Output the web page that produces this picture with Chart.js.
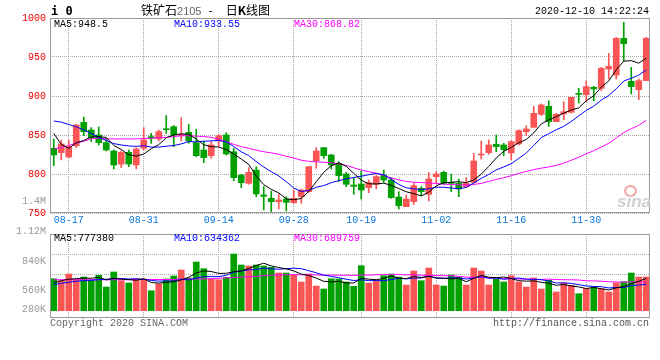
<!DOCTYPE html>
<html>
<head>
<meta charset="utf-8">
<script src="https://cdn.jsdelivr.net/npm/chart.js@4.4.0/dist/chart.umd.min.js"></script>
<style>
html, body { margin: 0; padding: 0; background: #fff; }
#wrap { position: relative; width: 660px; height: 360px; overflow: hidden; font-family: "Liberation Mono", "DejaVu Sans Mono", monospace; font-size: 10px; line-height: 10px; }
canvas { position: absolute; left: 0; top: 0; }
.t { position: absolute; white-space: nowrap; }
</style>
</head>
<body>
<div id="wrap">
  <canvas id="kline" width="660" height="360"></canvas>
  <canvas id="vol" width="660" height="360"></canvas>

  <div class="t" style="left:51px;top:5px;font:bold 12px 'DejaVu Sans Mono';line-height:12px">i 0</div>
  <div class="t" style="left:141px;top:4px;font:12px 'Noto Sans CJK SC';line-height:12px">铁矿石<span style="color:#666;font:11px 'Liberation Sans'">2105</span><span style="display:inline-block;margin:0 13px 0 7px">-</span>日<b>K</b>线图</div>
  <div class="t" style="left:535px;top:7px">2020-12-10 14:22:24</div>

  <div class="t" style="left:54px;top:20px;color:#000">MA5:948.5</div>
  <div class="t" style="left:174px;top:20px;color:#0000ff">MA10:933.55</div>
  <div class="t" style="left:294px;top:20px;color:#ff00ff">MA30:868.82</div>

  <div class="t" style="left:54px;top:234px;color:#000">MA5:777380</div>
  <div class="t" style="left:174px;top:234px;color:#0000ff">MA10:634362</div>
  <div class="t" style="left:294px;top:234px;color:#ff00ff">MA30:689759</div>

  <div class="t" style="right:614px;top:197px;color:#999">1.4M</div>
  <div id="volLabels"></div>

  <div class="t" style="left:624px;top:185px;width:9px;height:8px;border:2px solid #f2a5a5;border-radius:50%"></div>
  <div class="t" style="left:617px;top:193px;font:italic bold 17px 'Liberation Sans';line-height:17px;color:#cfcfcf">sina</div>

  <div class="t" style="left:50px;top:319px;color:#666">Copyright 2020 SINA.COM</div>
  <div class="t" style="left:493px;top:319px;color:#555">http://finance.sina.com.cn</div>
</div>

<script>
// 交易日
const dates = ['08-13','08-14','08-17','08-18','08-19','08-20','08-21','08-24','08-25','08-26','08-27','08-28','08-31',
  '09-01','09-02','09-03','09-04','09-07','09-08','09-09','09-10','09-11','09-14','09-15','09-16','09-17','09-18',
  '09-21','09-22','09-23','09-24','09-25','09-28','09-29','09-30',
  '10-09','10-12','10-13','10-14','10-15','10-16','10-19','10-20','10-21','10-22','10-23','10-26','10-27','10-28','10-29','10-30',
  '11-02','11-03','11-04','11-05','11-06','11-09','11-10','11-11','11-12','11-13','11-16','11-17','11-18','11-19','11-20',
  '11-23','11-24','11-25','11-26','11-27','11-30',
  '12-01','12-02','12-03','12-04','12-07','12-08','12-09','12-10'];

const dateLabels = ['08-17','08-31','09-14','09-28','10-19','11-02','11-16','11-30'];
const priceTicks = [750, 800, 850, 900, 950, 1000];
const volTickLabels = ['1.12M', '840K', '560K', '280K'];

// K线
const opens = [832.9, 827.4, 821.8, 836.3, 866.2, 856.4, 850, 840.2, 829.5, 812.8,
  827.8, 811.5, 833, 847.9, 844.9, 857.7, 860.7, 849.1, 853.4, 840.2,
  830.8, 823.5, 842.3, 850, 828.6, 798.7, 788, 805.1, 773.1, 768.8,
  764.5, 767.9, 763.2, 771, 777.4, 817.1, 833.8, 824.4, 813.7, 800,
  785.9, 787.2, 782.5, 786.8, 798.7, 792.3, 770.5, 758.1, 764.5, 781.7,
  773.9, 796.6, 802.1, 789.3, 788, 783.8, 789.3, 824.4, 827.4, 838,
  837.2, 827, 838.5, 854.3, 859.8, 876.5, 886.8, 867.1, 877, 879.1,
  903.4, 901.7, 911.1, 909.8, 934.6, 926.9, 973.9, 918.8, 908.1, 919.7];
const highs = [844.9, 843.6, 843.6, 863.7, 873.1, 859.4, 860.3, 845.7, 830.8, 829.5,
  830.8, 833.8, 859.4, 852.1, 856.4, 874.8, 862, 872.2, 863.7, 857.3,
  842.3, 841.5, 850.9, 853, 832.9, 799.6, 808.1, 809.4, 783.8, 778.2,
  774.4, 770.9, 779.5, 780.8, 809.4, 833.8, 833.8, 825.2, 815.8, 802.1,
  794.4, 803.8, 792.3, 798.7, 805.1, 795.3, 777.4, 773.1, 788, 783.8,
  802.1, 803, 803.8, 800, 793.6, 795.3, 826.5, 842.3, 843.6, 850,
  839.3, 842.7, 856.8, 862, 886.8, 889.8, 894, 877.8, 892.7, 898.3,
  909.8, 919.2, 912.4, 936.8, 954.7, 975.2, 994.5, 936.8, 921.8, 975.2];
const lows = [810.7, 818, 821, 833.8, 849.2, 841.5, 837.2, 829.5, 806.4, 808.1,
  809.4, 806.4, 830.8, 839.3, 842.3, 852.1, 835, 842.3, 839.3, 822.2,
  814.5, 820.1, 835, 824.4, 791.5, 782.5, 786.8, 770.9, 753.9, 750,
  755.1, 752.6, 762.4, 762.4, 776.5, 807.3, 820.1, 806.4, 790.2, 783.8,
  773.9, 767.9, 776.1, 780.8, 789.3, 768.8, 755.1, 758.1, 761.1, 772.2,
  765.4, 788, 786.8, 777.4, 770.9, 782.5, 788, 819.2, 825.2, 828.6,
  823.5, 818.4, 837.2, 849.2, 859.8, 874.8, 861.1, 867.1, 869.7, 878.2,
  891, 892.7, 894, 906.8, 921.8, 921.8, 945.3, 902.6, 895.3, 919.7];
const closes = [824.4, 838.5, 835, 862.8, 854.3, 846.6, 840.2, 830.8, 811.5, 827.8,
  812.8, 832.1, 843.6, 845.7, 854.3, 856.8, 850, 850.9, 842.3, 823.5,
  821, 837.2, 849.1, 825.6, 795.3, 788.9, 802.1, 774.4, 771.4, 764.5,
  766.7, 763.7, 768.8, 779.5, 809.4, 829.5, 823.5, 811.5, 797.9, 786.8,
  784.2, 779.5, 788.9, 796.6, 792.3, 769.7, 759.4, 767.9, 785, 777.4,
  793.6, 800, 788, 788, 780.8, 788, 816.7, 825.6, 837.2, 835,
  831.2, 841.5, 855.6, 857.7, 877.8, 888.5, 867.1, 876.5, 879.9, 898.3,
  902.1, 912, 909, 935.5, 938, 973.9, 967.1, 912, 919.7, 973.9];

// 均线（价格）
const ma5 = [852, 838, 833, 840, 843.0, 847.4, 847.8, 846.9, 836.7, 831.4,
  824.6, 823.0, 825.6, 832.4, 837.7, 846.5, 850.1, 851.5, 850.9, 844.7,
  837.5, 835.0, 834.6, 831.3, 825.6, 819.2, 812.2, 797.3, 786.4, 780.3,
  775.8, 768.1, 767.0, 768.6, 777.6, 790.2, 802.1, 810.7, 814.4, 809.8,
  800.8, 792.0, 787.5, 787.2, 788.3, 785.4, 781.4, 777.2, 774.9, 771.9,
  776.7, 784.8, 788.8, 789.4, 790.1, 789.0, 792.3, 799.8, 809.7, 820.5,
  829.1, 834.1, 840.1, 844.2, 852.8, 864.2, 869.3, 873.5, 878.0, 882.1,
  884.8, 893.8, 900.3, 911.4, 919.3, 933.7, 944.7, 945.3, 942.1, 948.5];
const ma10 = [868, 866.5, 863.5, 860.5, 856.5, 852, 847, 843, 839, 837.2,
  836.0, 835.4, 836.3, 834.5, 834.5, 835.6, 836.5, 838.6, 841.6, 841.2,
  842.0, 842.5, 843.1, 841.1, 835.2, 828.4, 823.6, 815.9, 808.9, 803.0,
  797.5, 790.2, 782.1, 777.5, 778.9, 783.0, 785.1, 788.9, 791.5, 793.7,
  795.5, 797.1, 799.1, 800.8, 799.1, 793.1, 786.7, 782.3, 781.0, 780.1,
  781.0, 783.1, 783.0, 782.1, 781.0, 782.8, 788.5, 794.3, 799.5, 805.3,
  809.1, 813.2, 820.0, 826.9, 836.6, 846.7, 851.7, 856.8, 861.1, 867.4,
  874.5, 881.6, 886.9, 894.7, 900.7, 909.2, 919.2, 922.8, 926.8, 933.55];
const ma30 = [832, 834, 836.5, 839.5, 842, 845, 846, 845, 845, 845,
  845, 845, 845.5, 846, 846.5, 847, 848, 849, 849, 848.5,
  848, 847, 844.5, 841.5, 838, 835, 833, 830.5, 828.5, 827.1,
  825.2, 822.7, 820.5, 817.7, 816.2, 815.6, 815.1, 814.4, 813, 811,
  808, 805, 803, 801, 798, 795, 792.5, 790.5, 789.5, 789,
  788.5, 788, 787, 786.5, 786, 786, 786.5, 788, 790.5, 793,
  795.2, 797.8, 800.7, 803.3, 805.6, 807.5, 809.0, 811.1, 813.9, 817.6,
  821.5, 825.9, 829.9, 834.6, 839.4, 846.2, 853.2, 858.0, 862.5, 868.82];

// 成交量（千手）
const volume = [768, 720, 881, 744, 809, 730, 850, 569, 929, 720,
  665, 761, 761, 480, 648, 761, 833, 977, 785, 1169,
  1008, 768, 744, 802, 1361, 1097, 1073, 1097, 1073, 1042,
  905, 905, 850, 689, 881, 593, 521, 768, 761, 689,
  586, 1080, 665, 706, 840, 881, 809, 617, 953, 720,
  1025, 617, 593, 857, 802, 617, 1025, 953, 617, 761,
  689, 840, 689, 569, 785, 521, 730, 449, 665, 610,
  408, 528, 569, 528, 449, 665, 696, 905, 809, 809];
const volMa5 = [672, 720, 756, 768, 785, 778, 802, 739, 778, 758,
  746, 730, 768, 677, 662, 682, 696, 739, 802, 905,
  955, 941, 895, 898, 936, 955, 1015, 1085, 1140, 1075,
  1037, 1003, 955, 878, 845, 782, 706, 691, 706, 667,
  665, 778, 756, 744, 775, 835, 780, 770, 821, 797,
  826, 787, 782, 763, 778, 696, 778, 850, 802, 794,
  809, 773, 720, 710, 715, 682, 658, 610, 629, 595,
  571, 533, 557, 528, 497, 547, 581, 648, 706, 777];
const volMa10 = [624, 660, 684, 708, 720, 732, 744, 756, 768, 773,
  761, 766, 754, 727, 710, 715, 713, 754, 739, 785,
  818, 818, 818, 850, 922, 955, 979, 991, 1020, 1006,
  996, 1010, 1020, 1008, 960, 910, 854, 823, 792, 756,
  725, 742, 722, 725, 720, 749, 778, 763, 782, 785,
  830, 782, 775, 792, 787, 761, 782, 816, 782, 787,
  754, 775, 785, 756, 754, 744, 715, 665, 670, 655,
  626, 595, 583, 578, 545, 559, 557, 602, 617, 634];
const volMa30 = [744, 744, 744, 744, 744, 744, 744, 744, 744, 744,
  744, 749, 749, 749, 749, 749, 749, 763, 763, 763,
  763, 763, 780, 787, 797, 806, 816, 826, 840, 854,
  859, 864, 864, 862, 864, 859, 850, 857, 850, 850,
  847, 857, 854, 862, 866, 871, 871, 859, 864, 850,
  850, 845, 840, 842, 823, 806, 804, 802, 785, 775,
  770, 766, 761, 758, 754, 751, 758, 749, 744, 742,
  737, 718, 715, 708, 696, 689, 684, 694, 689, 690];

const RED = '#fa5555';
const GREEN = '#00a000';
const GRID = '#a8a8a8';
const MONO = "'Liberation Mono', 'DejaVu Sans Mono', monospace";

const labelSet = new Set(dateLabels);
const candleColors = closes.map((c, i) => c >= opens[i] ? RED : GREEN);

// 画边框
const framePlugin = {
  id: 'frame',
  afterDraw(chart) {
    const { ctx, chartArea: a } = chart;
    ctx.save();
    ctx.strokeStyle = '#9a9a9a';
    ctx.lineWidth = 1;
    ctx.strokeRect(a.left + 0.5, a.top + 0.5, a.right - a.left - 1, a.bottom - a.top - 1);
    ctx.restore();
  }
};

function maLine(data, color) {
  return { type: 'line', data: data, borderColor: color, borderWidth: 1, pointRadius: 0, tension: 0, order: 0 };
}

const xGrid = {
  offset: false,
  drawTicks: false,
  color: c => labelSet.has(dates[c.index]) ? GRID : 'rgba(0,0,0,0)'
};

new Chart(document.getElementById('kline'), {
  type: 'bar',
  data: {
    labels: dates,
    datasets: [
      maLine(ma5, '#000000'),
      maLine(ma10, '#0000ff'),
      maLine(ma30, '#ff00ff'),
      { data: opens.map((o, i) => [o, closes[i]]), backgroundColor: candleColors, barThickness: 6, minBarLength: 1, grouped: false, order: 1 },
      { data: lows.map((l, i) => [l, highs[i]]), backgroundColor: candleColors, barThickness: 1, grouped: false, order: 2 }
    ]
  },
  options: {
    responsive: false,
    animation: false,
    layout: { padding: { top: 18, right: 10, bottom: 128, left: 0 } },
    plugins: { legend: { display: false }, tooltip: { enabled: false } },
    scales: {
      x: {
        offset: true,
        grid: xGrid,
        border: { display: false, dash: [1, 1] },
        ticks: {
          autoSkip: false, maxRotation: 0, minRotation: 0, padding: 1,
          color: '#0a78dc', font: { family: MONO, size: 10 },
          callback: (v, i) => labelSet.has(dates[i]) ? dates[i] : ''
        },
        afterFit: s => { s.height = 19; }
      },
      y: {
        min: 750, max: 1000,
        afterBuildTicks: s => { s.ticks = priceTicks.map(v => ({ value: v })); },
        grid: { color: GRID, drawTicks: false },
        border: { display: false, dash: [1, 1] },
        ticks: { padding: 4, color: '#ee0000', font: { family: MONO, size: 10 }, callback: v => String(v) },
        afterFit: s => { s.width = 50; }
      }
    }
  },
  plugins: [framePlugin]
});

new Chart(document.getElementById('vol'), {
  type: 'bar',
  data: {
    labels: dates,
    datasets: [
      maLine(volMa5, '#000000'),
      maLine(volMa10, '#0000ff'),
      maLine(volMa30, '#ff00ff'),
      { data: volume, backgroundColor: candleColors, barThickness: 6, order: 1 }
    ]
  },
  options: {
    responsive: false,
    animation: false,
    layout: { padding: { top: 234, right: 10, bottom: 42, left: 0 } },
    plugins: { legend: { display: false }, tooltip: { enabled: false } },
    scales: {
      x: {
        offset: true,
        grid: xGrid,
        border: { display: false, dash: [1, 1] },
        ticks: { display: false },
        afterFit: s => { s.height = 0; }
      },
      y: {
        min: -175, max: 1841,
        afterBuildTicks: s => { s.ticks = [384, 864, 1344].map(v => ({ value: v })); },
        grid: { color: GRID, drawTicks: false },
        border: { display: false, dash: [1, 1] },
        ticks: { display: false },
        afterFit: s => { s.width = 50; }
      }
    }
  },
  plugins: [framePlugin]
});

// 成交量刻度文字
const volLabelTops = [227, 257, 286, 305];
const box = document.getElementById('volLabels');
volTickLabels.forEach((txt, i) => {
  const d = document.createElement('div');
  d.className = 't';
  d.style.right = '614px';
  d.style.top = volLabelTops[i] + 'px';
  d.style.color = '#999';
  d.textContent = txt;
  box.appendChild(d);
});
</script>
</body>
</html>
